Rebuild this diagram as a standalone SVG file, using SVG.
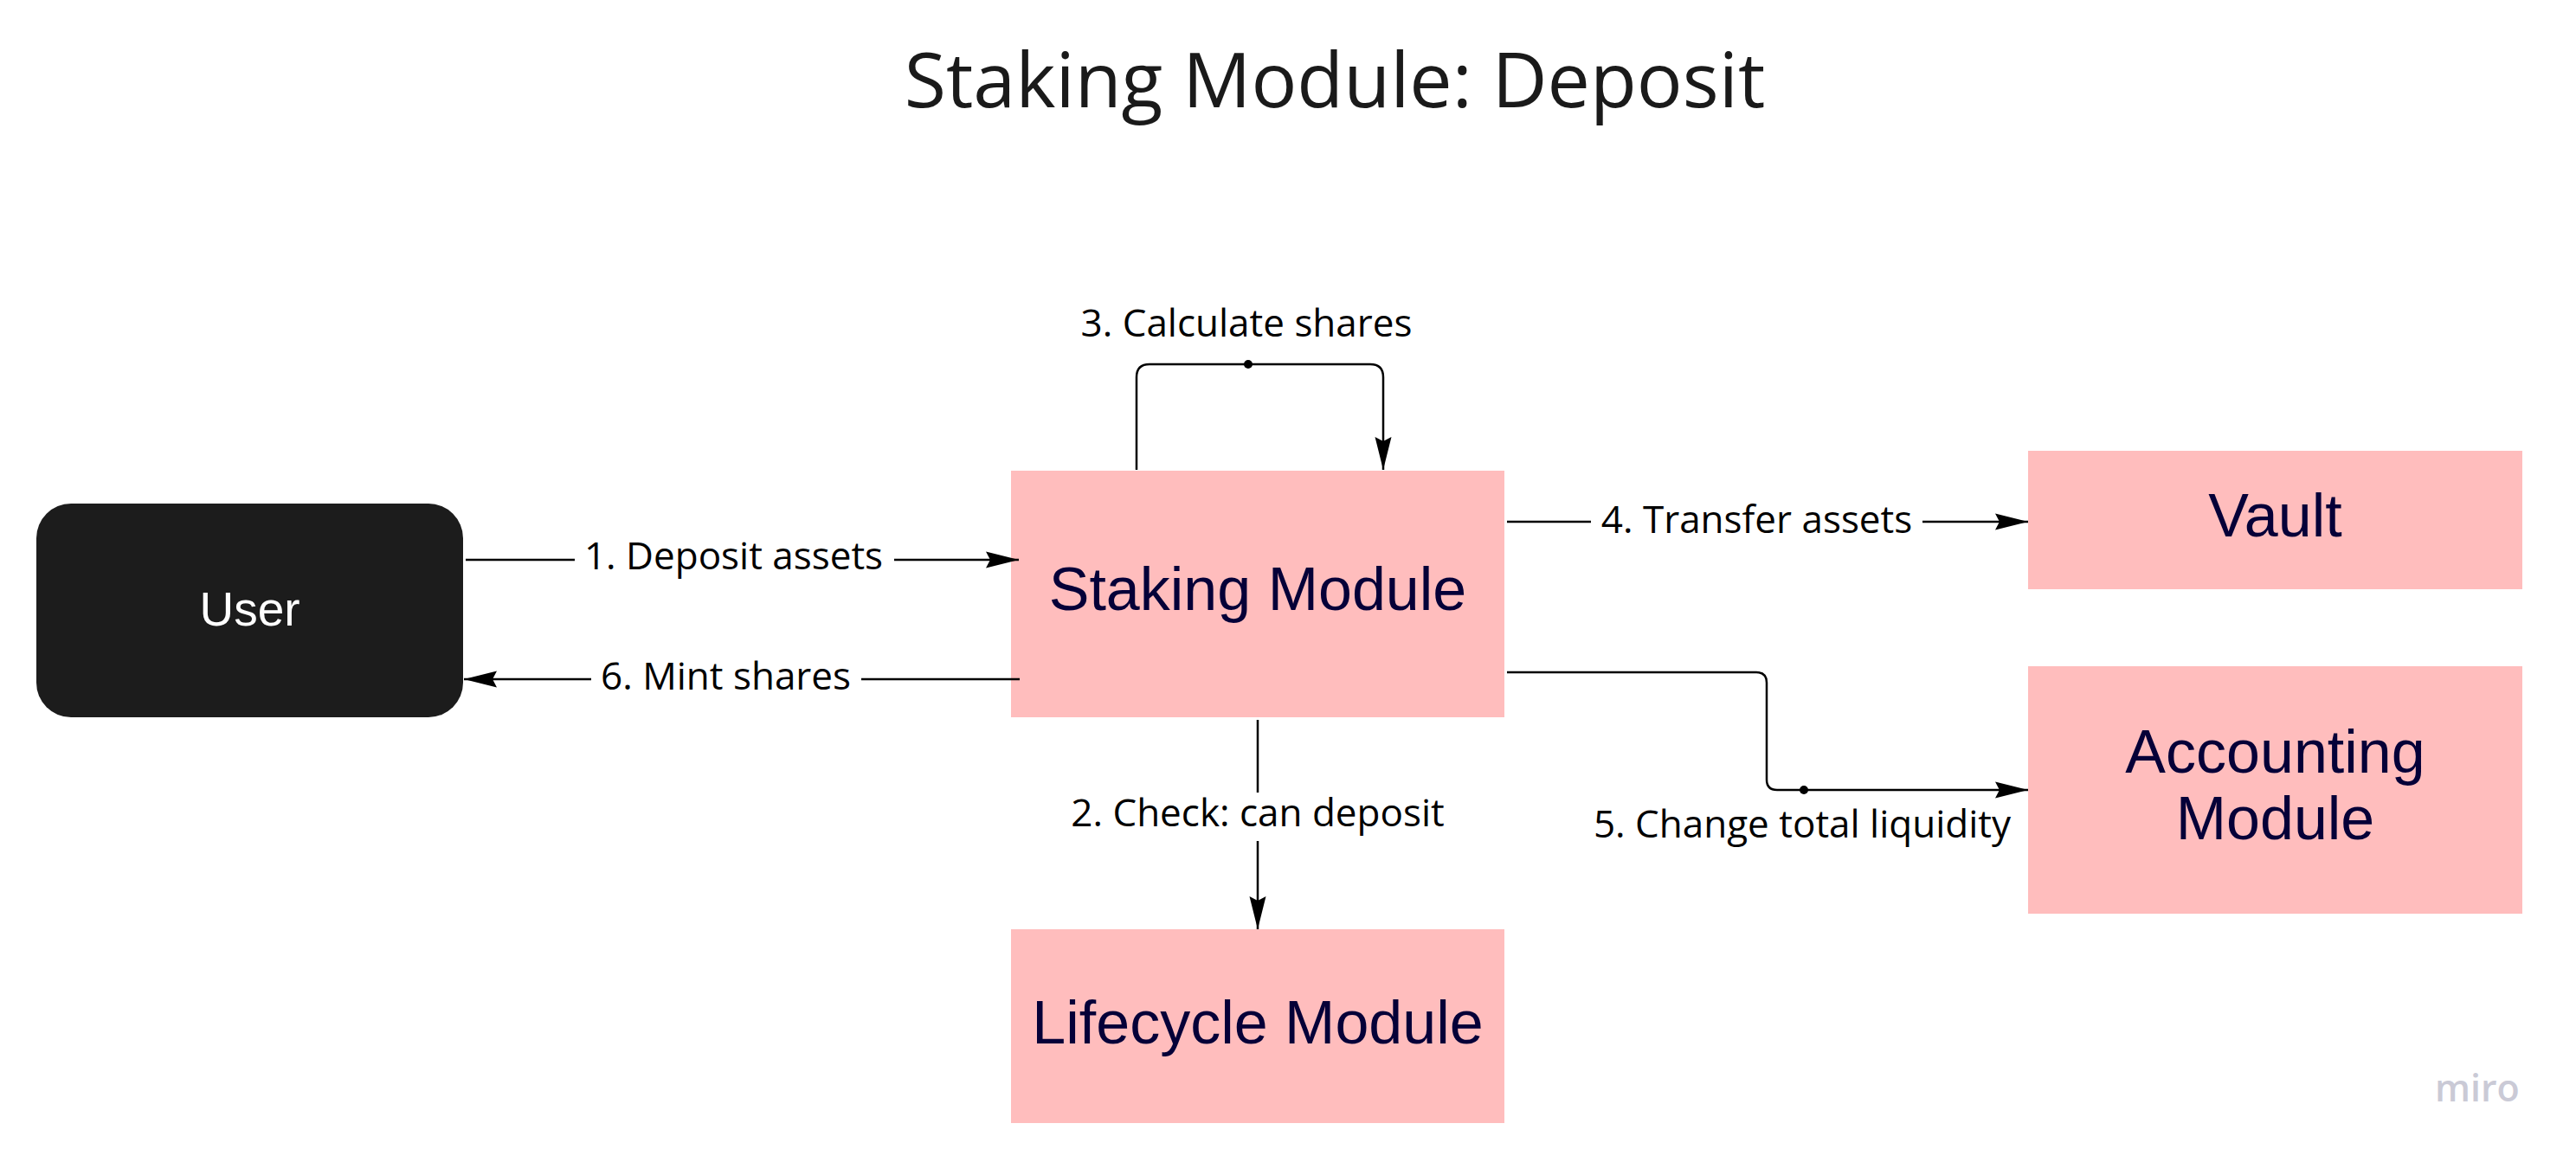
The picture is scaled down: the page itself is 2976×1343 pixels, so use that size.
<svg xmlns="http://www.w3.org/2000/svg" width="2976" height="1343" viewBox="0 0 2976 1343">
<style>
.box{fill:#ffbdbd}
.ntxt{font-family:"Liberation Sans",Arial,sans-serif;font-size:70px;fill:#050038;text-anchor:middle}
.lbl{font-family:"Open Sans","Noto Sans",sans-serif;font-size:44px;fill:#000;text-anchor:middle}
.conn{fill:none;stroke:#000;stroke-width:2.5;stroke-linecap:butt}
.bg{fill:#fff}
</style>
<defs>
<marker id="arr" markerUnits="userSpaceOnUse" markerWidth="40" markerHeight="20" refX="38" refY="9.5" orient="auto" overflow="visible">
<path d="M0,0 L38,9.5 L0,19 L5,9.5 Z" fill="#000"/>
</marker>
</defs>
<rect width="2976" height="1343" fill="#fff"/>
<text x="1542" y="124" font-family="'Open Sans','Noto Sans',sans-serif" font-size="88" fill="#1a1a1a" text-anchor="middle">Staking Module: Deposit</text>

<g id="user">
<rect x="42" y="582" width="493" height="247" rx="40" ry="40" fill="#1c1c1c"/>
<text x="288.5" y="723" font-family="'Liberation Sans',Arial,sans-serif" font-size="55" fill="#fff" text-anchor="middle">User</text>
</g>
<g id="staking">
<rect class="box" x="1168" y="544" width="570" height="285"/>
<text class="ntxt" x="1453" y="705">Staking Module</text>
</g>
<g id="vault">
<rect class="box" x="2343" y="521" width="571" height="160"/>
<text class="ntxt" x="2628.5" y="620">Vault</text>
</g>
<g id="accounting">
<rect class="box" x="2343" y="770" width="571" height="286"/>
<text class="ntxt" x="2628.5" y="893">Accounting</text>
<text class="ntxt" x="2628.5" y="970">Module</text>
</g>
<g id="lifecycle">
<rect class="box" x="1168" y="1074" width="570" height="224"/>
<text class="ntxt" x="1453" y="1206">Lifecycle Module</text>
</g>

<g id="connectors">
<path class="conn" d="M538,647 H1177" marker-end="url(#arr)"/>
<rect class="bg" x="664" y="619" width="369" height="56"/>
<text class="lbl" x="847.5" y="658">1. Deposit assets</text>

<path class="conn" d="M1453,832 V1074" marker-end="url(#arr)"/>
<rect class="bg" x="1230" y="916" width="446" height="56"/>
<text class="lbl" x="1453" y="955">2. Check: can deposit</text>

<path class="conn" d="M1313,543 V436 Q1313,421 1328,421 H1583 Q1598,421 1598,436 V543" marker-end="url(#arr)"/>
<circle cx="1442" cy="421" r="5" fill="#000"/>
<text class="lbl" x="1440" y="389">3. Calculate shares</text>

<path class="conn" d="M1741,603 H2343" marker-end="url(#arr)"/>
<rect class="bg" x="1838" y="575" width="383" height="56"/>
<text class="lbl" x="2029.5" y="616">4. Transfer assets</text>

<path class="conn" d="M1741,777 H2029 Q2041,777 2041,789 V901 Q2041,913 2053,913 H2343" marker-end="url(#arr)"/>
<circle cx="2084" cy="913" r="5" fill="#000"/>
<text class="lbl" x="2082" y="968">5. Change total liquidity</text>

<path class="conn" d="M1178,785 H536" marker-end="url(#arr)"/>
<rect class="bg" x="683" y="757" width="312" height="56"/>
<text class="lbl" x="838.5" y="797">6. Mint shares</text>
</g>

<text x="2813" y="1273" font-family="'Open Sans','Noto Sans',sans-serif" font-size="43" font-weight="600" fill="#cacad6">miro</text>
</svg>
